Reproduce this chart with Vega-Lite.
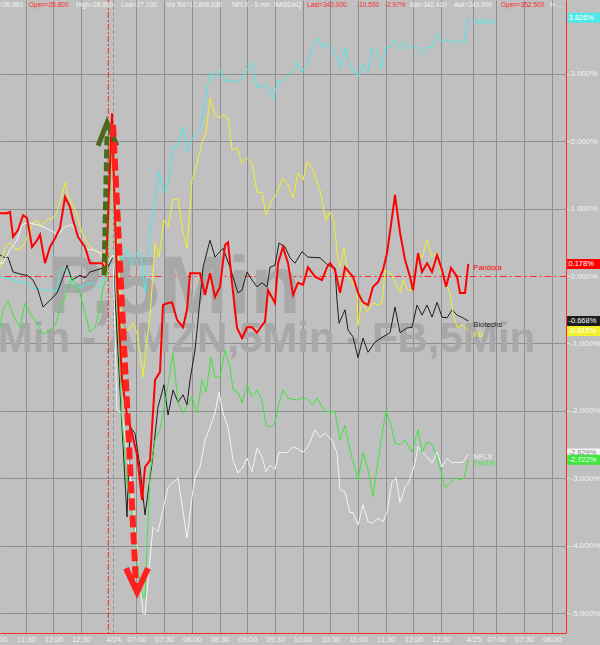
{
"$schema": "https://vega.github.io/schema/vega-lite/v6.json",
"width": 566, "height": 633,
"autosize": {"type": "none"},
"padding": {"left": 0, "top": 0, "right": 34, "bottom": 12},
"background": "#c0c0c0",
"config": {"view": {"stroke": null}, "font": "Liberation Sans", "axis": {"labelOverlap": false}},
"datasets": {
"series": [
{"s":"AMZN","n":0.43,"v":-0.01},{"s":"AMZN","n":1.95,"v":-0.03},{"s":"AMZN","n":3.25,"v":-0.06},{"s":"AMZN","n":4.77,"v":-0.09},{"s":"AMZN","n":6.28,"v":-0.10},{"s":"AMZN","n":7.58,"v":-0.18},{"s":"AMZN","n":9.10,"v":-0.19},{"s":"AMZN","n":10.62,"v":-0.21},{"s":"AMZN","n":11.92,"v":-0.21},{"s":"AMZN","n":12.78,"v":-0.21},{"s":"AMZN","n":13.43,"v":0.09},{"s":"AMZN","n":14.08,"v":0.12},{"s":"AMZN","n":14.95,"v":0.06},{"s":"AMZN","n":16.25,"v":-0.13},{"s":"AMZN","n":17.77,"v":-0.18},{"s":"AMZN","n":19.28,"v":-0.12},{"s":"AMZN","n":20.58,"v":-0.10},{"s":"AMZN","n":22.10,"v":-0.18},{"s":"AMZN","n":22.75,"v":-0.03},{"s":"AMZN","n":23.62,"v":0.09},{"s":"AMZN","n":24.70,"v":0.21},{"s":"AMZN","n":25.78,"v":0.53},{"s":"AMZN","n":26.87,"v":0.21},{"s":"AMZN","n":27.95,"v":0.39},{"s":"AMZN","n":29.03,"v":0.16},{"s":"AMZN","n":30.12,"v":0.36},{"s":"AMZN","n":30.98,"v":0.31},{"s":"AMZN","n":31.85,"v":-0.25},{"s":"AMZN","n":32.93,"v":0.64},{"s":"AMZN","n":34.02,"v":1.13},{"s":"AMZN","n":34.88,"v":1.54},{"s":"AMZN","n":35.97,"v":1.23},{"s":"AMZN","n":36.84,"v":1.35},{"s":"AMZN","n":37.92,"v":1.91},{"s":"AMZN","n":38.79,"v":1.90},{"s":"AMZN","n":40.09,"v":2.21},{"s":"AMZN","n":40.95,"v":1.84},{"s":"AMZN","n":42.25,"v":2.06},{"s":"AMZN","n":43.77,"v":2.19},{"s":"AMZN","n":44.85,"v":2.56},{"s":"AMZN","n":45.94,"v":3.02},{"s":"AMZN","n":47.02,"v":2.93},{"s":"AMZN","n":48.10,"v":3.05},{"s":"AMZN","n":49.19,"v":2.90},{"s":"AMZN","n":51.79,"v":2.87},{"s":"AMZN","n":52.87,"v":2.93},{"s":"AMZN","n":55.04,"v":3.16},{"s":"AMZN","n":56.12,"v":2.79},{"s":"AMZN","n":57.42,"v":2.83},{"s":"AMZN","n":58.29,"v":2.81},{"s":"AMZN","n":59.59,"v":2.61},{"s":"AMZN","n":60.67,"v":2.90},{"s":"AMZN","n":61.75,"v":2.89},{"s":"AMZN","n":63.92,"v":3.05},{"s":"AMZN","n":64.79,"v":3.16},{"s":"AMZN","n":65.87,"v":3.02},{"s":"AMZN","n":67.17,"v":3.17},{"s":"AMZN","n":68.69,"v":3.50},{"s":"AMZN","n":69.34,"v":3.53},{"s":"AMZN","n":70.20,"v":3.38},{"s":"AMZN","n":71.29,"v":3.45},{"s":"AMZN","n":72.37,"v":3.39},{"s":"AMZN","n":73.45,"v":3.24},{"s":"AMZN","n":74.10,"v":3.08},{"s":"AMZN","n":75.19,"v":3.39},{"s":"AMZN","n":76.05,"v":3.10},{"s":"AMZN","n":76.92,"v":3.08},{"s":"AMZN","n":78.00,"v":2.95},{"s":"AMZN","n":79.09,"v":3.14},{"s":"AMZN","n":80.17,"v":3.01},{"s":"AMZN","n":81.04,"v":3.39},{"s":"AMZN","n":82.12,"v":3.32},{"s":"AMZN","n":82.99,"v":3.08},{"s":"AMZN","n":84.07,"v":3.38},{"s":"AMZN","n":84.94,"v":3.39},{"s":"AMZN","n":86.02,"v":3.51},{"s":"AMZN","n":87.11,"v":3.35},{"s":"AMZN","n":87.97,"v":3.47},{"s":"AMZN","n":88.84,"v":3.36},{"s":"AMZN","n":89.92,"v":3.42},{"s":"AMZN","n":91.01,"v":3.38},{"s":"AMZN","n":91.87,"v":3.29},{"s":"AMZN","n":92.96,"v":3.38},{"s":"AMZN","n":94.04,"v":3.39},{"s":"AMZN","n":95.13,"v":3.59},{"s":"AMZN","n":96.21,"v":3.47},{"s":"AMZN","n":97.30,"v":3.50},{"s":"AMZN","n":98.60,"v":3.45},{"s":"AMZN","n":99.68,"v":3.50},{"s":"AMZN","n":100.98,"v":3.44},{"s":"AMZN","n":101.9,"v":3.826},
{"s":"Pandora","n":0.43,"v":0.93},{"s":"Pandora","n":1.95,"v":0.93},{"s":"Pandora","n":2.60,"v":0.95},{"s":"Pandora","n":3.25,"v":0.58},{"s":"Pandora","n":4.33,"v":0.68},{"s":"Pandora","n":5.42,"v":0.90},{"s":"Pandora","n":6.28,"v":0.86},{"s":"Pandora","n":7.37,"v":0.43},{"s":"Pandora","n":8.45,"v":0.53},{"s":"Pandora","n":9.10,"v":0.61},{"s":"Pandora","n":10.18,"v":0.19},{"s":"Pandora","n":11.27,"v":0.43},{"s":"Pandora","n":12.35,"v":0.56},{"s":"Pandora","n":13.43,"v":0.71},{"s":"Pandora","n":14.52,"v":1.17},{"s":"Pandora","n":15.60,"v":1.02},{"s":"Pandora","n":16.25,"v":0.83},{"s":"Pandora","n":17.33,"v":0.58},{"s":"Pandora","n":18.85,"v":0.43},{"s":"Pandora","n":19.93,"v":0.19},{"s":"Pandora","n":21.02,"v":0.19},{"s":"Pandora","n":22.53,"v":0.19},{"s":"Pandora","n":23.40,"v":0.09},{"s":"Pandora","n":24.70,"v":2.41},{"s":"Pandora","n":25.78,"v":-0.06},{"s":"Pandora","n":26.87,"v":-1.54},{"s":"Pandora","n":27.95,"v":-2.06},{"s":"Pandora","n":29.03,"v":-2.33},{"s":"Pandora","n":30.12,"v":-2.65},{"s":"Pandora","n":31.20,"v":-3.32},{"s":"Pandora","n":31.85,"v":-2.83},{"s":"Pandora","n":32.93,"v":-2.73},{"s":"Pandora","n":34.02,"v":-1.54},{"s":"Pandora","n":35.10,"v":-1.42},{"s":"Pandora","n":35.75,"v":-0.43},{"s":"Pandora","n":36.84,"v":-0.40},{"s":"Pandora","n":37.70,"v":-0.39},{"s":"Pandora","n":38.79,"v":-0.65},{"s":"Pandora","n":40.09,"v":-0.76},{"s":"Pandora","n":40.95,"v":-0.50},{"s":"Pandora","n":41.60,"v":0.04},{"s":"Pandora","n":42.69,"v":0.04},{"s":"Pandora","n":43.77,"v":0.04},{"s":"Pandora","n":44.85,"v":-0.28},{"s":"Pandora","n":45.94,"v":0.04},{"s":"Pandora","n":47.02,"v":-0.31},{"s":"Pandora","n":48.10,"v":-0.16},{"s":"Pandora","n":49.19,"v":0.46},{"s":"Pandora","n":49.84,"v":0.50},{"s":"Pandora","n":50.70,"v":-0.10},{"s":"Pandora","n":51.79,"v":-0.77},{"s":"Pandora","n":52.87,"v":-0.92},{"s":"Pandora","n":53.95,"v":-0.76},{"s":"Pandora","n":55.04,"v":-0.76},{"s":"Pandora","n":56.12,"v":-0.84},{"s":"Pandora","n":57.20,"v":-0.73},{"s":"Pandora","n":57.85,"v":-0.68},{"s":"Pandora","n":58.50,"v":-0.21},{"s":"Pandora","n":60.02,"v":-0.40},{"s":"Pandora","n":60.67,"v":0.19},{"s":"Pandora","n":61.75,"v":0.43},{"s":"Pandora","n":62.84,"v":0.19},{"s":"Pandora","n":63.92,"v":-0.28},{"s":"Pandora","n":65.00,"v":-0.10},{"s":"Pandora","n":66.09,"v":-0.13},{"s":"Pandora","n":67.17,"v":0.13},{"s":"Pandora","n":68.69,"v":-0.01},{"s":"Pandora","n":70.20,"v":-0.06},{"s":"Pandora","n":71.29,"v":0.13},{"s":"Pandora","n":71.94,"v":0.19},{"s":"Pandora","n":73.02,"v":0.09},{"s":"Pandora","n":74.10,"v":-0.25},{"s":"Pandora","n":75.19,"v":0.13},{"s":"Pandora","n":76.27,"v":0.04},{"s":"Pandora","n":76.92,"v":-0.01},{"s":"Pandora","n":78.00,"v":-0.25},{"s":"Pandora","n":79.09,"v":-0.39},{"s":"Pandora","n":80.17,"v":-0.43},{"s":"Pandora","n":81.25,"v":-0.16},{"s":"Pandora","n":82.34,"v":-0.09},{"s":"Pandora","n":83.42,"v":0.09},{"s":"Pandora","n":84.29,"v":0.34},{"s":"Pandora","n":85.37,"v":0.87},{"s":"Pandora","n":86.02,"v":1.20},{"s":"Pandora","n":87.11,"v":0.64},{"s":"Pandora","n":88.19,"v":0.24},{"s":"Pandora","n":89.27,"v":-0.01},{"s":"Pandora","n":89.92,"v":-0.21},{"s":"Pandora","n":91.01,"v":0.34},{"s":"Pandora","n":91.87,"v":0.06},{"s":"Pandora","n":92.96,"v":0.19},{"s":"Pandora","n":94.04,"v":0.06},{"s":"Pandora","n":95.13,"v":0.31},{"s":"Pandora","n":96.21,"v":0.09},{"s":"Pandora","n":97.08,"v":-0.16},{"s":"Pandora","n":98.16,"v":0.12},{"s":"Pandora","n":99.46,"v":-0.01},{"s":"Pandora","n":100.11,"v":-0.25},{"s":"Pandora","n":101.19,"v":-0.25},{"s":"Pandora","n":101.9,"v":0.178},
{"s":"Biotechs","n":0.43,"v":0.31},{"s":"Biotechs","n":1.52,"v":0.27},{"s":"Biotechs","n":2.17,"v":0.28},{"s":"Biotechs","n":3.25,"v":0.06},{"s":"Biotechs","n":4.77,"v":0.03},{"s":"Biotechs","n":6.28,"v":0.01},{"s":"Biotechs","n":7.58,"v":-0.06},{"s":"Biotechs","n":8.67,"v":-0.21},{"s":"Biotechs","n":9.75,"v":-0.46},{"s":"Biotechs","n":11.27,"v":-0.36},{"s":"Biotechs","n":12.78,"v":-0.25},{"s":"Biotechs","n":13.87,"v":-0.06},{"s":"Biotechs","n":14.95,"v":0.16},{"s":"Biotechs","n":16.03,"v":-0.06},{"s":"Biotechs","n":17.77,"v":0.01},{"s":"Biotechs","n":18.85,"v":-0.03},{"s":"Biotechs","n":19.93,"v":0.06},{"s":"Biotechs","n":21.45,"v":0.09},{"s":"Biotechs","n":22.75,"v":0.12},{"s":"Biotechs","n":23.83,"v":0.13},{"s":"Biotechs","n":24.92,"v":0.28},{"s":"Biotechs","n":26.43,"v":-1.69},{"s":"Biotechs","n":27.95,"v":-3.57},{"s":"Biotechs","n":28.60,"v":-2.24},{"s":"Biotechs","n":29.68,"v":-2.33},{"s":"Biotechs","n":30.77,"v":-2.83},{"s":"Biotechs","n":31.85,"v":-3.54},{"s":"Biotechs","n":33.37,"v":-2.77},{"s":"Biotechs","n":34.67,"v":-1.94},{"s":"Biotechs","n":35.97,"v":-1.61},{"s":"Biotechs","n":36.84,"v":-2.06},{"s":"Biotechs","n":37.92,"v":-1.69},{"s":"Biotechs","n":39.00,"v":-1.87},{"s":"Biotechs","n":40.09,"v":-1.76},{"s":"Biotechs","n":40.95,"v":-1.91},{"s":"Biotechs","n":41.60,"v":-1.54},{"s":"Biotechs","n":42.69,"v":-1.10},{"s":"Biotechs","n":43.34,"v":-0.65},{"s":"Biotechs","n":44.42,"v":0.13},{"s":"Biotechs","n":45.94,"v":0.53},{"s":"Biotechs","n":47.02,"v":0.28},{"s":"Biotechs","n":48.75,"v":0.41},{"s":"Biotechs","n":50.27,"v":0.13},{"s":"Biotechs","n":52.00,"v":-0.25},{"s":"Biotechs","n":52.87,"v":-0.21},{"s":"Biotechs","n":53.95,"v":0.06},{"s":"Biotechs","n":55.04,"v":-0.06},{"s":"Biotechs","n":56.12,"v":-0.16},{"s":"Biotechs","n":57.20,"v":-0.10},{"s":"Biotechs","n":58.29,"v":-0.16},{"s":"Biotechs","n":58.94,"v":0.13},{"s":"Biotechs","n":60.02,"v":0.16},{"s":"Biotechs","n":60.89,"v":0.49},{"s":"Biotechs","n":62.19,"v":0.43},{"s":"Biotechs","n":63.27,"v":0.27},{"s":"Biotechs","n":64.35,"v":0.19},{"s":"Biotechs","n":65.87,"v":0.36},{"s":"Biotechs","n":67.17,"v":0.28},{"s":"Biotechs","n":69.77,"v":0.27},{"s":"Biotechs","n":71.50,"v":0.16},{"s":"Biotechs","n":73.02,"v":0.12},{"s":"Biotechs","n":73.45,"v":-0.36},{"s":"Biotechs","n":73.89,"v":-0.70},{"s":"Biotechs","n":75.19,"v":-0.50},{"s":"Biotechs","n":75.84,"v":-0.80},{"s":"Biotechs","n":76.92,"v":-0.90},{"s":"Biotechs","n":78.00,"v":-1.21},{"s":"Biotechs","n":79.09,"v":-0.92},{"s":"Biotechs","n":80.17,"v":-1.13},{"s":"Biotechs","n":81.69,"v":-0.98},{"s":"Biotechs","n":82.99,"v":-0.92},{"s":"Biotechs","n":84.94,"v":-0.84},{"s":"Biotechs","n":86.02,"v":-0.46},{"s":"Biotechs","n":87.11,"v":-0.84},{"s":"Biotechs","n":88.62,"v":-0.77},{"s":"Biotechs","n":89.71,"v":-0.76},{"s":"Biotechs","n":90.79,"v":-0.43},{"s":"Biotechs","n":91.87,"v":-0.58},{"s":"Biotechs","n":92.96,"v":-0.43},{"s":"Biotechs","n":94.04,"v":-0.61},{"s":"Biotechs","n":95.13,"v":-0.39},{"s":"Biotechs","n":96.21,"v":-0.61},{"s":"Biotechs","n":97.30,"v":-0.62},{"s":"Biotechs","n":98.38,"v":-0.50},{"s":"Biotechs","n":99.46,"v":-0.58},{"s":"Biotechs","n":100.76,"v":-0.62},{"s":"Biotechs","n":101.9,"v":-0.668},
{"s":"FB","n":0.43,"v":0.13},{"s":"FB","n":1.52,"v":0.43},{"s":"FB","n":2.60,"v":0.49},{"s":"FB","n":3.68,"v":0.41},{"s":"FB","n":4.77,"v":0.39},{"s":"FB","n":5.85,"v":0.49},{"s":"FB","n":7.58,"v":0.79},{"s":"FB","n":8.45,"v":0.83},{"s":"FB","n":9.10,"v":0.73},{"s":"FB","n":10.62,"v":0.83},{"s":"FB","n":11.92,"v":0.86},{"s":"FB","n":12.78,"v":0.95},{"s":"FB","n":13.87,"v":1.20},{"s":"FB","n":14.52,"v":1.38},{"s":"FB","n":15.17,"v":1.20},{"s":"FB","n":16.25,"v":1.05},{"s":"FB","n":17.12,"v":0.90},{"s":"FB","n":18.20,"v":0.64},{"s":"FB","n":19.28,"v":0.49},{"s":"FB","n":20.58,"v":0.39},{"s":"FB","n":21.67,"v":0.36},{"s":"FB","n":22.53,"v":0.34},{"s":"FB","n":22.97,"v":0.13},{"s":"FB","n":23.62,"v":0.01},{"s":"FB","n":24.70,"v":2.31},{"s":"FB","n":25.78,"v":0.68},{"s":"FB","n":26.87,"v":-0.76},{"s":"FB","n":28.17,"v":-0.80},{"s":"FB","n":29.25,"v":-0.70},{"s":"FB","n":30.12,"v":-0.84},{"s":"FB","n":30.77,"v":-1.14},{"s":"FB","n":31.42,"v":-1.50},{"s":"FB","n":32.28,"v":-0.95},{"s":"FB","n":32.93,"v":-0.61},{"s":"FB","n":34.02,"v":0.49},{"s":"FB","n":34.88,"v":0.28},{"s":"FB","n":35.97,"v":0.83},{"s":"FB","n":36.84,"v":0.73},{"s":"FB","n":37.92,"v":1.13},{"s":"FB","n":39.00,"v":1.14},{"s":"FB","n":40.09,"v":0.64},{"s":"FB","n":40.95,"v":0.41},{"s":"FB","n":42.04,"v":1.42},{"s":"FB","n":43.12,"v":1.67},{"s":"FB","n":44.20,"v":1.97},{"s":"FB","n":45.07,"v":2.12},{"s":"FB","n":45.94,"v":2.64},{"s":"FB","n":47.02,"v":2.39},{"s":"FB","n":47.89,"v":2.34},{"s":"FB","n":48.75,"v":2.39},{"s":"FB","n":49.84,"v":2.34},{"s":"FB","n":50.70,"v":1.87},{"s":"FB","n":51.79,"v":1.90},{"s":"FB","n":52.87,"v":1.67},{"s":"FB","n":53.95,"v":1.75},{"s":"FB","n":55.04,"v":1.67},{"s":"FB","n":56.12,"v":1.24},{"s":"FB","n":57.20,"v":1.24},{"s":"FB","n":58.07,"v":0.90},{"s":"FB","n":59.37,"v":1.13},{"s":"FB","n":60.02,"v":1.17},{"s":"FB","n":61.75,"v":1.45},{"s":"FB","n":62.84,"v":1.35},{"s":"FB","n":63.92,"v":1.16},{"s":"FB","n":65.00,"v":1.53},{"s":"FB","n":66.09,"v":1.42},{"s":"FB","n":66.95,"v":1.69},{"s":"FB","n":68.25,"v":1.57},{"s":"FB","n":69.77,"v":1.27},{"s":"FB","n":71.07,"v":0.83},{"s":"FB","n":71.94,"v":0.95},{"s":"FB","n":72.80,"v":0.80},{"s":"FB","n":73.67,"v":0.24},{"s":"FB","n":74.10,"v":0.13},{"s":"FB","n":74.97,"v":0.41},{"s":"FB","n":75.84,"v":-0.01},{"s":"FB","n":76.92,"v":-0.10},{"s":"FB","n":77.79,"v":-0.21},{"s":"FB","n":78.00,"v":-0.73},{"s":"FB","n":78.87,"v":-0.36},{"s":"FB","n":79.95,"v":-0.53},{"s":"FB","n":81.25,"v":-0.40},{"s":"FB","n":82.34,"v":-0.43},{"s":"FB","n":83.21,"v":-0.40},{"s":"FB","n":83.86,"v":0.09},{"s":"FB","n":85.37,"v":0.01},{"s":"FB","n":87.11,"v":-0.25},{"s":"FB","n":87.76,"v":-0.06},{"s":"FB","n":88.84,"v":-0.21},{"s":"FB","n":89.92,"v":-0.21},{"s":"FB","n":91.01,"v":0.34},{"s":"FB","n":91.87,"v":0.27},{"s":"FB","n":92.96,"v":0.53},{"s":"FB","n":94.04,"v":0.28},{"s":"FB","n":95.13,"v":0.36},{"s":"FB","n":95.78,"v":0.13},{"s":"FB","n":96.86,"v":-0.10},{"s":"FB","n":97.95,"v":-0.25},{"s":"FB","n":98.60,"v":-0.55},{"s":"FB","n":99.46,"v":-0.76},{"s":"FB","n":100.76,"v":-0.73},{"s":"FB","n":101.9,"v":-0.815},
{"s":"NFLX","n":0.43,"v":0.19},{"s":"NFLX","n":1.08,"v":0.19},{"s":"NFLX","n":2.60,"v":0.39},{"s":"NFLX","n":4.12,"v":0.53},{"s":"NFLX","n":5.20,"v":0.76},{"s":"NFLX","n":6.50,"v":0.79},{"s":"NFLX","n":8.45,"v":0.76},{"s":"NFLX","n":9.75,"v":0.73},{"s":"NFLX","n":11.27,"v":0.68},{"s":"NFLX","n":13.00,"v":0.61},{"s":"NFLX","n":14.52,"v":0.73},{"s":"NFLX","n":16.03,"v":0.76},{"s":"NFLX","n":17.12,"v":0.64},{"s":"NFLX","n":18.42,"v":0.49},{"s":"NFLX","n":19.50,"v":0.39},{"s":"NFLX","n":20.58,"v":0.39},{"s":"NFLX","n":22.10,"v":0.34},{"s":"NFLX","n":22.75,"v":0.24},{"s":"NFLX","n":23.83,"v":0.21},{"s":"NFLX","n":24.92,"v":0.31},{"s":"NFLX","n":25.78,"v":-1.99},{"s":"NFLX","n":26.87,"v":-2.03},{"s":"NFLX","n":27.95,"v":-2.58},{"s":"NFLX","n":29.25,"v":-3.32},{"s":"NFLX","n":30.33,"v":-4.21},{"s":"NFLX","n":31.42,"v":-4.99},{"s":"NFLX","n":31.85,"v":-5.02},{"s":"NFLX","n":32.50,"v":-4.50},{"s":"NFLX","n":33.58,"v":-3.72},{"s":"NFLX","n":34.67,"v":-3.79},{"s":"NFLX","n":36.84,"v":-3.13},{"s":"NFLX","n":39.00,"v":-2.99},{"s":"NFLX","n":40.95,"v":-3.88},{"s":"NFLX","n":42.04,"v":-3.27},{"s":"NFLX","n":42.69,"v":-2.98},{"s":"NFLX","n":43.77,"v":-2.83},{"s":"NFLX","n":44.85,"v":-2.43},{"s":"NFLX","n":45.94,"v":-2.24},{"s":"NFLX","n":47.02,"v":-2.03},{"s":"NFLX","n":47.89,"v":-1.72},{"s":"NFLX","n":48.75,"v":-2.03},{"s":"NFLX","n":49.84,"v":-2.24},{"s":"NFLX","n":50.92,"v":-2.73},{"s":"NFLX","n":52.00,"v":-2.92},{"s":"NFLX","n":53.09,"v":-2.83},{"s":"NFLX","n":53.95,"v":-2.70},{"s":"NFLX","n":55.04,"v":-2.90},{"s":"NFLX","n":56.12,"v":-2.55},{"s":"NFLX","n":57.20,"v":-2.68},{"s":"NFLX","n":58.07,"v":-2.90},{"s":"NFLX","n":58.94,"v":-2.80},{"s":"NFLX","n":60.02,"v":-2.87},{"s":"NFLX","n":60.89,"v":-2.61},{"s":"NFLX","n":62.62,"v":-2.62},{"s":"NFLX","n":63.92,"v":-2.53},{"s":"NFLX","n":65.00,"v":-2.56},{"s":"NFLX","n":66.09,"v":-2.61},{"s":"NFLX","n":67.17,"v":-2.53},{"s":"NFLX","n":68.69,"v":-2.28},{"s":"NFLX","n":69.77,"v":-2.39},{"s":"NFLX","n":70.85,"v":-2.33},{"s":"NFLX","n":72.37,"v":-2.43},{"s":"NFLX","n":73.45,"v":-2.62},{"s":"NFLX","n":74.10,"v":-3.17},{"s":"NFLX","n":75.19,"v":-3.20},{"s":"NFLX","n":76.27,"v":-3.51},{"s":"NFLX","n":76.92,"v":-3.50},{"s":"NFLX","n":78.00,"v":-3.69},{"s":"NFLX","n":79.09,"v":-3.39},{"s":"NFLX","n":80.17,"v":-3.64},{"s":"NFLX","n":81.25,"v":-3.66},{"s":"NFLX","n":82.34,"v":-3.59},{"s":"NFLX","n":83.42,"v":-3.64},{"s":"NFLX","n":84.29,"v":-3.50},{"s":"NFLX","n":85.37,"v":-3.05},{"s":"NFLX","n":86.24,"v":-2.99},{"s":"NFLX","n":87.11,"v":-3.36},{"s":"NFLX","n":88.19,"v":-3.13},{"s":"NFLX","n":89.06,"v":-3.05},{"s":"NFLX","n":90.36,"v":-2.77},{"s":"NFLX","n":91.01,"v":-2.53},{"s":"NFLX","n":92.09,"v":-2.61},{"s":"NFLX","n":92.96,"v":-2.68},{"s":"NFLX","n":94.04,"v":-2.77},{"s":"NFLX","n":95.13,"v":-2.61},{"s":"NFLX","n":96.21,"v":-2.83},{"s":"NFLX","n":97.30,"v":-2.70},{"s":"NFLX","n":98.38,"v":-2.77},{"s":"NFLX","n":99.46,"v":-2.76},{"s":"NFLX","n":100.76,"v":-2.76},{"s":"NFLX","n":101.9,"v":-2.629},
{"s":"TWTR","n":0.43,"v":-0.77},{"s":"TWTR","n":1.08,"v":-0.50},{"s":"TWTR","n":2.17,"v":-0.36},{"s":"TWTR","n":3.25,"v":-0.58},{"s":"TWTR","n":4.77,"v":-0.76},{"s":"TWTR","n":5.85,"v":-0.40},{"s":"TWTR","n":6.93,"v":-0.55},{"s":"TWTR","n":8.45,"v":-0.70},{"s":"TWTR","n":9.75,"v":-0.87},{"s":"TWTR","n":11.27,"v":-0.80},{"s":"TWTR","n":12.35,"v":-0.73},{"s":"TWTR","n":13.43,"v":-0.50},{"s":"TWTR","n":14.52,"v":-0.31},{"s":"TWTR","n":16.03,"v":-0.01},{"s":"TWTR","n":17.77,"v":-0.25},{"s":"TWTR","n":18.85,"v":-0.55},{"s":"TWTR","n":19.93,"v":-0.83},{"s":"TWTR","n":21.02,"v":-0.76},{"s":"TWTR","n":22.10,"v":-0.46},{"s":"TWTR","n":22.75,"v":-0.18},{"s":"TWTR","n":23.62,"v":-0.01},{"s":"TWTR","n":24.70,"v":2.09},{"s":"TWTR","n":25.78,"v":-0.36},{"s":"TWTR","n":26.87,"v":-2.13},{"s":"TWTR","n":27.95,"v":-3.07},{"s":"TWTR","n":29.25,"v":-3.61},{"s":"TWTR","n":30.77,"v":-4.55},{"s":"TWTR","n":31.42,"v":-4.76},{"s":"TWTR","n":31.85,"v":-4.76},{"s":"TWTR","n":32.28,"v":-4.01},{"s":"TWTR","n":32.93,"v":-2.92},{"s":"TWTR","n":34.02,"v":-2.43},{"s":"TWTR","n":35.10,"v":-2.28},{"s":"TWTR","n":36.18,"v":-1.88},{"s":"TWTR","n":37.92,"v":-1.14},{"s":"TWTR","n":39.00,"v":-1.88},{"s":"TWTR","n":40.09,"v":-2.03},{"s":"TWTR","n":42.04,"v":-1.79},{"s":"TWTR","n":43.12,"v":-2.03},{"s":"TWTR","n":44.20,"v":-1.54},{"s":"TWTR","n":45.07,"v":-1.72},{"s":"TWTR","n":46.15,"v":-1.20},{"s":"TWTR","n":47.02,"v":-1.50},{"s":"TWTR","n":48.10,"v":-1.50},{"s":"TWTR","n":49.19,"v":-1.10},{"s":"TWTR","n":50.27,"v":-1.35},{"s":"TWTR","n":50.92,"v":-1.69},{"s":"TWTR","n":52.00,"v":-1.72},{"s":"TWTR","n":52.87,"v":-1.88},{"s":"TWTR","n":53.95,"v":-1.61},{"s":"TWTR","n":55.04,"v":-1.79},{"s":"TWTR","n":56.12,"v":-1.69},{"s":"TWTR","n":57.20,"v":-1.84},{"s":"TWTR","n":58.07,"v":-2.21},{"s":"TWTR","n":58.94,"v":-2.24},{"s":"TWTR","n":60.02,"v":-2.18},{"s":"TWTR","n":60.67,"v":-1.94},{"s":"TWTR","n":61.75,"v":-1.69},{"s":"TWTR","n":62.84,"v":-1.81},{"s":"TWTR","n":64.79,"v":-1.84},{"s":"TWTR","n":65.87,"v":-1.81},{"s":"TWTR","n":66.95,"v":-1.81},{"s":"TWTR","n":68.04,"v":-1.91},{"s":"TWTR","n":69.12,"v":-1.81},{"s":"TWTR","n":70.85,"v":-2.01},{"s":"TWTR","n":73.02,"v":-2.01},{"s":"TWTR","n":74.10,"v":-2.43},{"s":"TWTR","n":75.19,"v":-2.21},{"s":"TWTR","n":76.27,"v":-2.58},{"s":"TWTR","n":78.00,"v":-3.02},{"s":"TWTR","n":79.09,"v":-2.62},{"s":"TWTR","n":80.17,"v":-2.87},{"s":"TWTR","n":81.25,"v":-3.27},{"s":"TWTR","n":82.34,"v":-2.73},{"s":"TWTR","n":84.07,"v":-1.99},{"s":"TWTR","n":84.94,"v":-2.16},{"s":"TWTR","n":86.02,"v":-2.47},{"s":"TWTR","n":87.11,"v":-2.50},{"s":"TWTR","n":88.19,"v":-2.43},{"s":"TWTR","n":89.71,"v":-2.61},{"s":"TWTR","n":91.01,"v":-2.28},{"s":"TWTR","n":91.87,"v":-2.61},{"s":"TWTR","n":92.96,"v":-2.46},{"s":"TWTR","n":94.04,"v":-2.50},{"s":"TWTR","n":95.13,"v":-2.68},{"s":"TWTR","n":96.86,"v":-3.13},{"s":"TWTR","n":97.51,"v":-3.10},{"s":"TWTR","n":99.03,"v":-2.99},{"s":"TWTR","n":100.11,"v":-3.02},{"s":"TWTR","n":100.98,"v":-2.99},{"s":"TWTR","n":101.9,"v":-2.722}
],
"last": [
{"s":"AMZN","n":103,"v":3.826,"pct":"3.826%"},
{"s":"Pandora","n":103,"v":0.178,"pct":"0.178%"},
{"s":"Biotechs","n":103,"v":-0.668,"pct":"-0.668%"},
{"s":"FB","n":103,"v":-0.815,"pct":"-0.815%"},
{"s":"NFLX","n":103,"v":-2.629,"pct":"-2.629%"},
{"s":"TWTR","n":103,"v":-2.722,"pct":"-2.722%"}
],
"header": [
{"t":"=26.860","n":0.3,"v":4.01,"g":"w"},
{"t":"Open=28.800","n":6.71,"v":4.01,"g":"r"},
{"t":"High=28.980","n":16.9,"v":4.01,"g":"w"},
{"t":"Low=27.100","n":26.65,"v":4.01,"g":"w"},
{"t":"Vol Tot=17,806,038","n":36.4,"v":4.01,"g":"w"},
{"t":"NFLX - 5 min","n":50.7,"v":4.01,"g":"w"},
{"t":"NASDAQ","n":59.8,"v":4.01,"g":"w"},
{"t":"Last=343.000","n":66.96,"v":4.01,"g":"r"},
{"t":"-10.500","n":77.8,"v":4.01,"g":"r"},
{"t":"-2.97%","n":83.85,"v":4.01,"g":"r"},
{"t":"Bid=342.410","n":89.27,"v":4.01,"g":"w"},
{"t":"Ask=343.000","n":98.8,"v":4.01,"g":"w"},
{"t":"Open=352.500","n":109.0,"v":4.01,"g":"r"},
{"t":"H ...","n":119.6,"v":4.01,"g":"w"}
],
"arrows": [
{"a":"upShaft","n":22.97,"v":0.01},{"a":"upShaft","n":23.62,"v":2.09},
{"a":"upHead","n":21.67,"v":1.93},{"a":"upHead","n":23.62,"v":2.27},{"a":"upHead","n":25.78,"v":1.93},
{"a":"downShaft","n":24.92,"v":2.24},{"a":"downShaft","n":29.9,"v":-4.58},
{"a":"downHead","n":27.73,"v":-4.33},{"a":"downHead","n":30.12,"v":-4.68},{"a":"downHead","n":32.5,"v":-4.33}
]
},
"layer": [
{
"data": {"values": [{"t":"P,5Min","n":10.6,"v":-0.55}]},
"mark": {"type":"text","align":"left","baseline":"alphabetic","fontSize":82,"fontWeight":"bold","color":"#a8a8a8","clip":true},
"encoding": {
"x": {"field":"n","type":"quantitative","title":null,
"scale":{"domain":[0.43,123.07],"nice":false,"zero":false},
"axis":{"values":[6,12,18,25,30,36,42,48,54,60,66,72,78,84,90,96,103,108,114,120],"tickCount":100,
"labelExpr":"['11:30','12:00','12:30','4/24','07:00','07:30','08:00','08:30','09:00','09:30','10:00','10:30','11:00','11:30','12:00','12:30','4/25','07:00','07:30','08:00'][indexof([6,12,18,25,30,36,42,48,54,60,66,72,78,84,90,96,103,108,114,120], datum.value)]",
"grid":true,"gridColor":"#8e8e8e","gridDash":{"condition":{"test":"datum.value === 25","value":[3,3]},"value":[]},
"domainColor":"#ff2a2a","ticks":false,"labelColor":"#f2f2f2","labelFontSize":7.5,"labelPadding":2,"labelOverlap":false,"labelFlush":false,"labelBound":false}},
"y": {"field":"v","type":"quantitative","title":null,
"scale":{"domain":[-5.289,4.089],"nice":false,"zero":false},
"axis":{"orient":"right","values":[-5,-4,-3,-2,-1,0,1,2,3],"tickCount":100,
"labelExpr":"(datum.value < 0 ? '-' : '') + format(abs(datum.value), '.3f') + '%'",
"grid":true,"gridColor":{"condition":{"test":"datum.value === 0","value":"#ff2a2a"},"value":"#8e8e8e"},
"gridDash":{"condition":{"test":"datum.value === 0","value":[7,3,2,3]},"value":[]},
"domainColor":"#ff2a2a","tickColor":"#eeeeee","tickSize":3,"labelColor":"#f2f2f2","labelFontSize":8,"labelPadding":1,"labelOverlap":false}},
"text": {"field":"t"}
}
},
{
"data": {"values": [{"t":"TWTR,5Min - AMZN,5Min - FB,5Min","n":116.4,"v":-1.13}]},
"mark": {"type":"text","align":"right","baseline":"alphabetic","fontSize":42,"fontWeight":"bold","color":"#a8a8a8","clip":true},
"encoding": {"x":{"field":"n","type":"quantitative","title":null},"y":{"field":"v","type":"quantitative","title":null},"text":{"field":"t"}}
},
{
"data": {"values": [{"t":"11:00","n":0.0,"v":-5.289}]},
"mark": {"type":"text","align":"center","baseline":"top","dy":3,"fontSize":7.5,"color":"#f2f2f2"},
"encoding": {"x":{"field":"n","type":"quantitative","title":null},"y":{"field":"v","type":"quantitative","title":null},"text":{"field":"t"}}
},
{
"data": {"values": [{"n":23.9}]},
"mark": {"type":"rule","color":"#ff2020","strokeWidth":1,"strokeDash":[6,2,2,2]},
"encoding": {"x":{"field":"n","type":"quantitative","title":null}}
},
{
"data": {"name":"series"},
"transform": [{"filter":"datum.s !== 'Pandora'"}],
"mark": {"type":"line","strokeWidth":1},
"encoding": {
"x":{"field":"n","type":"quantitative","title":null},
"y":{"field":"v","type":"quantitative","title":null},
"color":{"field":"s","type":"nominal","legend":null,"scale":{"domain":["AMZN","Pandora","Biotechs","FB","NFLX","TWTR"],"range":["#4ee8e8","#ff0000","#1e1e1e","#f2f22a","#f4f4f4","#3ee63e"]}},
"detail":{"field":"s"}
}
},
{
"data": {"name":"series"},
"transform": [{"filter":"datum.s === 'Pandora'"}],
"mark": {"type":"line","strokeWidth":2},
"encoding": {
"x":{"field":"n","type":"quantitative","title":null},
"y":{"field":"v","type":"quantitative","title":null},
"color":{"field":"s","type":"nominal","legend":null}
}
},
{
"data": {"name":"arrows"},
"transform": [{"filter":"datum.a === 'upShaft'"}],
"mark": {"type":"line","color":"#4b6a1c","strokeWidth":5,"strokeDash":[9,4]},
"encoding": {"x":{"field":"n","type":"quantitative","title":null},"y":{"field":"v","type":"quantitative","title":null}}
},
{
"data": {"name":"arrows"},
"transform": [{"filter":"datum.a === 'upHead'"}],
"mark": {"type":"line","color":"#4b6a1c","strokeWidth":5},
"encoding": {"x":{"field":"n","type":"quantitative","title":null},"y":{"field":"v","type":"quantitative","title":null}}
},
{
"data": {"name":"arrows"},
"transform": [{"filter":"datum.a === 'downShaft'"}],
"mark": {"type":"line","color":"#ff2020","strokeWidth":6,"strokeDash":[12,5]},
"encoding": {"x":{"field":"n","type":"quantitative","title":null},"y":{"field":"v","type":"quantitative","title":null}}
},
{
"data": {"name":"arrows"},
"transform": [{"filter":"datum.a === 'downHead'"}],
"mark": {"type":"line","color":"#ff2020","strokeWidth":6},
"encoding": {"x":{"field":"n","type":"quantitative","title":null},"y":{"field":"v","type":"quantitative","title":null}}
},
{
"data": {"name":"last"},
"mark": {"type":"text","align":"left","baseline":"top","fontSize":7.5},
"encoding": {
"x":{"field":"n","type":"quantitative","title":null},
"y":{"field":"v","type":"quantitative","title":null},
"color":{"field":"s","type":"nominal","legend":null},
"text":{"field":"s"}
}
},
{
"data": {"name":"last"},
"mark": {"type":"rect","height":10},
"encoding": {
"x":{"datum":123.3,"type":"quantitative","title":null},
"x2":{"datum":130.6},
"y":{"field":"v","type":"quantitative","title":null},
"color":{"field":"s","type":"nominal","legend":null}
}
},
{
"data": {"name":"last"},
"mark": {"type":"text","align":"left","baseline":"middle","fontSize":7.5},
"encoding": {
"x":{"datum":123.6,"type":"quantitative","title":null},
"y":{"field":"v","type":"quantitative","title":null},
"color":{"condition":{"test":"datum.s === 'NFLX'","value":"#808080"},"value":"#ffffff"},
"text":{"field":"pct"}
}
},
{
"data": {"name":"header"},
"mark": {"type":"text","align":"left","baseline":"middle","fontSize":6.5},
"encoding": {
"x":{"field":"n","type":"quantitative","title":null},
"y":{"field":"v","type":"quantitative","title":null},
"color":{"condition":{"test":"datum.g === 'r'","value":"#ff2a2a"},"value":"#f4f4f4"},
"text":{"field":"t"}
}
}
]
}
